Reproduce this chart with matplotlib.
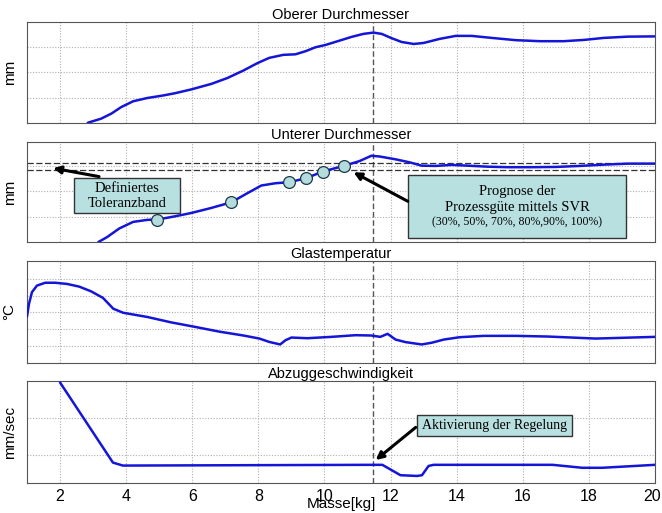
import matplotlib
matplotlib.use("Agg")
import matplotlib.pyplot as plt
import matplotlib.transforms as mtransforms
from matplotlib.patches import Rectangle

# ---------------- data ----------------
titles = ["Oberer Durchmesser", "Unterer Durchmesser", "Glastemperatur", "Abzuggeschwindigkeit"]
ylabels = ["mm", "mm", "°C", "mm/sec"]
xlabel = "Masse[kg]"
xticks = [2, 4, 6, 8, 10, 12, 14, 16, 18, 20]

obere_x = [2.84, 3.24, 3.55, 3.85, 4.21, 4.64, 5.12, 5.48, 5.97, 6.58, 7.06, 7.55, 7.97, 8.33, 8.76,
           9.12, 9.42, 9.73, 10.03, 10.45, 10.82, 11.18, 11.48, 11.73, 12.03, 12.33, 12.7, 13.0, 13.48,
           13.97, 14.45, 15.06, 15.79, 16.52, 17.24, 17.85, 18.45, 19.18, 20.0]
obere_y = [0.01, 0.17, 0.37, 0.63, 0.86, 0.99, 1.09, 1.18, 1.33, 1.55, 1.78, 2.08, 2.37, 2.58, 2.70,
           2.72, 2.84, 3.0, 3.09, 3.26, 3.41, 3.53, 3.58, 3.53, 3.36, 3.21, 3.13, 3.17, 3.33,
           3.45, 3.45, 3.37, 3.28, 3.24, 3.24, 3.29, 3.37, 3.42, 3.43]

untere_x = [3.16, 3.42, 3.79, 4.21, 4.64, 4.94, 5.48, 5.97, 6.58, 7.18, 7.67, 8.09, 8.52, 8.94, 9.45,
            9.95, 10.58, 11.06, 11.42, 11.67, 12.15, 12.58, 12.94, 13.36, 13.85, 14.33, 14.94, 15.55,
            16.27, 17.0, 17.73, 18.45, 19.18, 20.0]
untere_y = [0.0, 0.19, 0.53, 0.79, 0.87, 0.88, 1.01, 1.14, 1.34, 1.56, 1.92, 2.22, 2.31, 2.35, 2.51,
            2.77, 2.99, 3.18, 3.39, 3.36, 3.25, 3.13, 3.0, 2.99, 3.03, 3.0, 2.96, 2.94,
            2.94, 2.95, 2.99, 3.04, 3.08, 3.08]
toleranz = [2.84, 3.09]
prognose_x = [4.92, 7.18, 8.94, 9.45, 9.95, 10.58]
prognose_y = [0.88, 1.56, 2.35, 2.51, 2.77, 2.99]

temp_x = [1.0, 1.06, 1.15, 1.3, 1.55, 1.85, 2.21, 2.58, 2.94, 3.3, 3.61, 3.91, 4.64, 5.36, 6.09, 6.82,
          7.55, 8.03, 8.33, 8.66, 8.82, 9.0, 9.48, 10.21, 10.94, 11.42, 11.69, 11.91, 12.15, 12.45,
          12.94, 13.24, 13.61, 14.09, 14.82, 15.79, 16.76, 17.48, 18.21, 18.94, 20.0]
temp_y = [2.76, 3.51, 4.2, 4.59, 4.76, 4.76, 4.69, 4.53, 4.25, 3.86, 3.22, 2.98, 2.73, 2.41, 2.14, 1.86,
          1.63, 1.45, 1.25, 1.1, 1.35, 1.51, 1.47, 1.55, 1.65, 1.63, 1.55, 1.73, 1.39, 1.24,
          1.1, 1.2, 1.39, 1.53, 1.61, 1.61, 1.57, 1.51, 1.45, 1.49, 1.55]

abzug_x = [2.0, 3.6, 3.9, 11.4, 11.75, 12.3, 12.8, 12.95, 13.15, 13.3, 16.9, 17.8, 18.4, 20.0]
abzug_y = [2.71, 0.55, 0.47, 0.49, 0.49, 0.21, 0.19, 0.21, 0.46, 0.49, 0.49, 0.41, 0.41, 0.49]

regelung_x = 11.47

# ---------------- styling ----------------
line_color = "#1515d8"
box_color = "#b8e0e0"
marker_color = "#b4dcdc"

plt.rcParams['font.family'] = ['Liberation Sans', 'DejaVu Sans']
serif = "Liberation Serif"

fig = plt.figure(figsize=(6.62, 5.13), dpi=100)
left, width = 27 / 662, 628 / 662
boxes = [(22, 123), (142, 242), (261, 363), (381, 483)]
ylims = [(0, 4), (0, 3.93), (0, 6.05), (0, 2.75)]
yticks = [[1, 2, 3], [1, 2, 3], [1, 2, 3, 4, 5], [0.75, 1.75]]
series = [(obere_x, obere_y), (untere_x, untere_y), (temp_x, temp_y), (abzug_x, abzug_y)]

axes = []
for i in range(4):
    top, bot = boxes[i]
    ax = fig.add_axes([left, 1 - bot / 513, width, (bot - top) / 513])
    ax.set_xlim(1, 20)
    ax.set_ylim(*ylims[i])
    ax.set_xticks(xticks)
    ax.set_yticks(yticks[i])
    ax.set_yticklabels([])
    ax.grid(True, color="#b0b0b0", linestyle=(0, (1, 1.5)), linewidth=0.8)
    ax.tick_params(length=0, labelsize=11.5)
    if i < 3:
        ax.set_xticklabels([])
    for s in ax.spines.values():
        s.set_color("#555555")
        s.set_linewidth(0.8)
    ax.set_title(titles[i], fontsize=10.5, pad=2)
    ax.set_ylabel(ylabels[i], fontsize=11, labelpad=4)
    x, y = series[i]
    ax.plot(x, y, color=line_color, lw=1.8, solid_joinstyle='round', solid_capstyle='round', zorder=3)
    ax.axvline(regelung_x, color="#555555", lw=1.0, ls=(0, (4, 2)), zorder=2)
    axes.append(ax)

arrow = dict(arrowstyle="-|>", color="black", lw=2.2, mutation_scale=11, shrinkA=0, shrinkB=0)

# Panel 2 extras
ax2 = axes[1]
for t in toleranz:
    ax2.axhline(t, color="#333333", lw=0.9, ls=(0, (5, 2)), zorder=2)
ax2.plot(prognose_x, prognose_y, 'o', ms=8.5, mfc=marker_color, mec="#1a3a4a", mew=0.9, zorder=5)

ax2.add_patch(Rectangle((2.43, 1.14), 3.21, 1.39, fc=box_color, ec="#333333", lw=1.0, zorder=6))
ax2.text(4.03, 2.12, "Definiertes", ha="center", va="center", fontsize=10.5, family=serif, zorder=7)
ax2.text(4.03, 1.51, "Toleranzband", ha="center", va="center", fontsize=10.5, family=serif, zorder=7)
ax2.annotate("", xy=(1.79, 2.9), xytext=(3.18, 2.57), arrowprops=arrow, zorder=6)

ax2.add_patch(Rectangle((12.54, 0.17), 6.58, 2.47, fc=box_color, ec="#333333", lw=1.0, zorder=6))
ax2.text(15.83, 1.99, "Prognose der", ha="center", va="center", fontsize=10.5, family=serif, zorder=7)
ax2.text(15.83, 1.34, "Prozessgüte mittels SVR", ha="center", va="center", fontsize=10.5, family=serif, zorder=7)
ax2.text(15.83, 0.78, "(30%, 50%, 70%, 80%,90%, 100%)", ha="center", va="center", fontsize=8.5,
         family=serif, zorder=7)
ax2.annotate("", xy=(10.88, 2.74), xytext=(12.52, 1.6), arrowprops=arrow, zorder=6)

# Panel 4 extras
ax4 = axes[3]
ax4.add_patch(Rectangle((12.8, 1.27), 4.7, 0.55, fc=box_color, ec="#333333", lw=1.0, zorder=6))
ax4.text(15.15, 1.55, "Aktivierung der Regelung", ha="center", va="center", fontsize=10,
         family=serif, zorder=7)
ax4.annotate("", xy=(11.55, 0.62), xytext=(12.76, 1.5), arrowprops=arrow, zorder=6)
ax4.tick_params(axis='x', pad=4)
# nudge the last tick label ("20") slightly left so it stays inside the figure
last = ax4.get_xticklabels()[-1]
last.set_transform(last.get_transform() + mtransforms.ScaledTranslation(-3 / 100, 0, fig.dpi_scale_trans))
fig.text(left + width * (10.5 - 1) / 19, 1 - 504 / 513, xlabel, ha="center", va="center", fontsize=11)

fig.savefig("out.png", dpi=100)
